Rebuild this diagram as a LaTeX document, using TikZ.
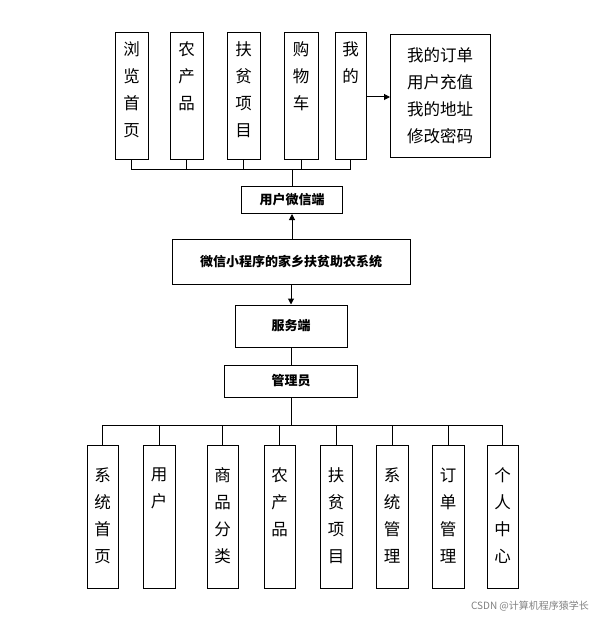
\documentclass[tikz,border=0pt]{standalone}
\usepackage{fontspec}
\setmainfont{Noto Sans CJK SC}
\usetikzlibrary{arrows.meta}
\begin{document}
\begin{tikzpicture}[x=1pt,y=-1pt,
  bx/.style={draw,line width=1pt,inner sep=0pt},
  vt/.style={font=\fontsize{16.5}{27}\selectfont,align=center},
  hb/.style={draw,line width=1pt,font=\fontsize{13}{16}\selectfont\bfseries},
  ln/.style={line width=1pt},
  ar/.style={line width=1pt,-{Triangle[length=6pt,width=6pt]}}]
\useasboundingbox (0,0) rectangle (600,620);
% top boxes
\foreach \n/\a/\b/\t in {t1/115/148/{浏\\览\\首\\页},t2/170/203/{农\\产\\品},t3/227/260/{扶\\贫\\项\\目},t4/284/318/{购\\物\\车},t5/335/366/{我\\的}}{
  \draw[bx] (\a,33) rectangle (\b,160);
  \node[vt,anchor=north] (\n) at ({(\a+\b)/2},38) {\t};
  \coordinate (\n b) at ({(\a+\b)/2},160);
}
\draw[bx] (390,35) rectangle (490,158);
\node[vt] (t6) at (440,96) {我的订单\\用户充值\\我的地址\\修改密码};
\draw[ar] (366,97) -- (390,97);
\draw[ln] (131,170) -- (350,170);
\foreach \n in {t1b,t2b,t3b,t4b,t5b}{\draw[ln] (\n) -- (\n |- 0,170);}
\node[hb,minimum width=101pt,minimum height=27pt] (wx) at (292,200) {用户微信端};
\draw[ln] (292,170) -- (wx.north);
\node[hb,minimum width=238pt,minimum height=45pt] (sys) at (291,262) {微信小程序的家乡扶贫助农系统};
\draw[ar] (sys.north -| wx) -- (wx.south);
\node[hb,minimum width=112pt,minimum height=42pt] (fw) at (291,326) {服务端};
\draw[ar] (sys.south) -- (fw.north);
\node[hb,minimum width=133pt,minimum height=32pt] (gl) at (291,381) {管理员};
\draw[ln] (fw.south) -- (gl.north);
\draw[ln] (gl.south) -- (291,425);
\draw[ln] (102,425) -- (502,425);
\foreach \n/\a/\b/\t in {b1/87/118/{系\\统\\首\\页},b2/143/175/{用\\户},b3/207/238/{商\\品\\分\\类},b4/264/295/{农\\产\\品},b5/320/352/{扶\\贫\\项\\目},b6/376/408/{系\\统\\管\\理},b7/432/464/{订\\单\\管\\理},b8/487/518/{个\\人\\中\\心}}{
  \draw[bx] (\a,445) rectangle (\b,588);
  \node[vt,anchor=north] (\n) at ({(\a+\b)/2},464) {\t};
  \draw[ln] ({(\a+\b)/2},425) -- ({(\a+\b)/2},445);
}
\node[text=gray,font=\fontsize{10}{12}\selectfont] (wm) at (530,606) {CSDN @计算机程序猿学长};
\end{tikzpicture}
\end{document}
